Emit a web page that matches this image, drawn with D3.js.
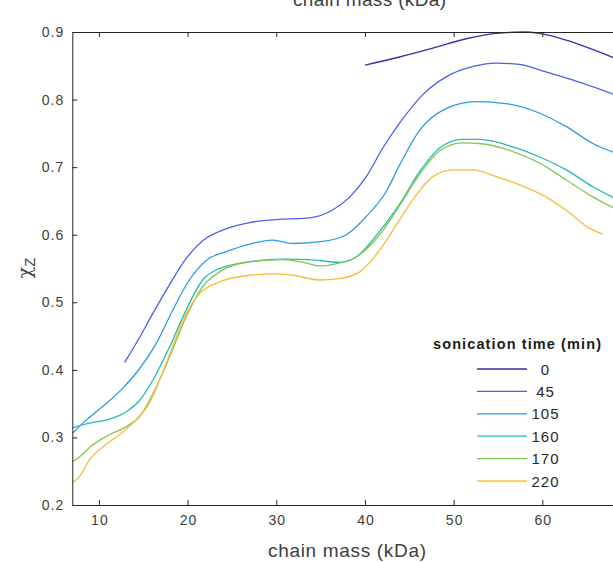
<!DOCTYPE html>
<html><head><meta charset="utf-8">
<script src="https://cdn.jsdelivr.net/npm/d3@7"></script>
<style>
html,body{margin:0;padding:0;background:#fff;overflow:hidden}
svg{display:block;font-family:"Liberation Sans",Arial,Helvetica,sans-serif}
</style></head>
<body>
<svg id="chart" width="613" height="562"></svg>
<script>
// ---- data ----
const sonicationTimes = ["0", "45", "105", "160", "170", "220"];
const seriesColors = ["#3d2cab", "#4a5ff2", "#2d9ae6", "#20bdb2", "#86c64e", "#fbbb3c"];
const xTicks = [10, 20, 30, 40, 50, 60];
const yTicks = [0.2, 0.3, 0.4, 0.5, 0.6, 0.7, 0.8, 0.9];

const mass0 = [40, 43.9, 47.65, 51.4, 54.8, 57.8, 59.7, 62.7, 65.3, 68];
const chi0  = [0.851, 0.863, 0.876, 0.890, 0.898, 0.900, 0.898, 0.888, 0.876, 0.862];

const mass45 = [12.9, 14.5, 16.1, 18.0, 19.85, 21.7, 24.4, 27.0, 30.7, 33.75, 36.4, 38.3, 40.15, 42.0, 43.9, 46.5, 49.2, 52.2, 54.8, 57.4, 60.4, 63.4, 68];
const chi45  = [0.411, 0.446, 0.484, 0.527, 0.565, 0.591, 0.609, 0.618, 0.623, 0.625, 0.637, 0.656, 0.686, 0.728, 0.765, 0.807, 0.834, 0.849, 0.854, 0.852, 0.841, 0.829, 0.808];

const mass105 = [7.0, 8.6, 10.45, 12.7, 14.6, 16.5, 18.35, 20.2, 22.1, 24.4, 27.0, 29.6, 31.9, 35.25, 37.9, 40.15, 42.4, 43.9, 46.2, 49.2, 52.5, 55.9, 59.3, 62.7, 65.7, 68];
const chi105  = [0.306, 0.326, 0.346, 0.373, 0.402, 0.440, 0.489, 0.533, 0.562, 0.575, 0.586, 0.592, 0.587, 0.590, 0.600, 0.627, 0.664, 0.703, 0.755, 0.787, 0.797, 0.794, 0.782, 0.760, 0.735, 0.722];

const mass160 = [7.0, 8.95, 11.2, 13.1, 14.6, 16.1, 17.97, 19.85, 21.7, 23.6, 27.0, 30.7, 33.75, 37.1, 39.0, 41.65, 43.9, 46.2, 48.4, 51.0, 52.9, 56.7, 59.7, 62.7, 65.7, 68];
const chi160  = [0.314, 0.321, 0.327, 0.338, 0.355, 0.385, 0.434, 0.489, 0.533, 0.550, 0.560, 0.564, 0.563, 0.559, 0.567, 0.605, 0.645, 0.694, 0.728, 0.741, 0.741, 0.730, 0.715, 0.696, 0.671, 0.655];

const mass170 = [7.0, 7.8, 9.3, 11.2, 13.1, 14.6, 16.1, 17.97, 19.85, 21.7, 23.6, 27.0, 30.7, 33.4, 34.9, 37.1, 39.0, 41.65, 43.9, 46.2, 48.4, 51.0, 52.9, 56.7, 59.7, 62.7, 65.7, 68];
const chi170  = [0.264, 0.271, 0.289, 0.304, 0.316, 0.331, 0.365, 0.419, 0.479, 0.523, 0.545, 0.560, 0.563, 0.558, 0.554, 0.558, 0.567, 0.600, 0.643, 0.690, 0.724, 0.736, 0.735, 0.723, 0.706, 0.681, 0.656, 0.640];

const mass220 = [7.0, 7.8, 8.95, 10.45, 12.3, 14.2, 15.7, 17.6, 19.5, 21.35, 23.2, 27.0, 29.6, 31.9, 34.9, 37.1, 39.4, 41.65, 43.9, 45.4, 47.65, 49.9, 52.2, 54.8, 57.4, 60.4, 63.1, 65.0, 66.8];
const chi220  = [0.233, 0.242, 0.267, 0.286, 0.304, 0.326, 0.351, 0.410, 0.474, 0.513, 0.528, 0.540, 0.542, 0.540, 0.533, 0.535, 0.545, 0.577, 0.622, 0.652, 0.686, 0.696, 0.696, 0.686, 0.674, 0.656, 0.632, 0.612, 0.601];

const seriesMass = [mass0, mass45, mass105, mass160, mass170, mass220];
const seriesChi  = [chi0, chi45, chi105, chi160, chi170, chi220];

// ---- layout ----
const svg = d3.select("#chart");
const mLeft = 72.3, mRight = 631, mTop = 32, mBottom = 505;
const x = d3.scaleLinear().domain([7, 70]).range([mLeft, mRight]);
const y = d3.scaleLinear().domain([0.2, 0.9]).range([mBottom, mTop]);
const axisColor = "#262626";
const textColor = "#404040";

svg.append("defs").append("clipPath").attr("id", "plotclip")
  .append("rect").attr("x", mLeft).attr("y", mTop - 2).attr("width", mRight - mLeft).attr("height", mBottom - mTop + 2);

const line = d3.line().x(d => x(d[0])).y(d => y(d[1])).curve(d3.curveMonotoneX);
const plot = svg.append("g").attr("clip-path", "url(#plotclip)");
seriesMass.forEach((ms, i) => {
  const pts = ms.map((m, j) => [m, seriesChi[i][j]]);
  plot.append("path").datum(pts)
    .attr("d", line).attr("fill", "none")
    .attr("stroke", seriesColors[i]).attr("stroke-width", 1.3);
});

function styleAxis(g) {
  g.select(".domain").attr("stroke", axisColor).attr("stroke-width", 1);
  g.selectAll(".tick line").attr("stroke", axisColor);
  g.selectAll(".tick text").attr("fill", textColor).style("font-size", "14px")
    .style("letter-spacing", "1px")
    .style("font-family", "\"Liberation Sans\",Arial,sans-serif");
}
const xAxis = svg.append("g").attr("transform", `translate(0,${mBottom})`)
  .call(d3.axisBottom(x).tickValues(xTicks).tickSize(-5).tickSizeOuter(0).tickPadding(10));
styleAxis(xAxis);
xAxis.selectAll(".tick text").attr("dx", "0.5");
const xTopAxis = svg.append("g").attr("transform", `translate(0,${mTop})`)
  .call(d3.axisTop(x).tickValues(xTicks).tickSize(-5).tickSizeOuter(0).tickFormat(""));
styleAxis(xTopAxis);
const yAxis = svg.append("g").attr("transform", `translate(${mLeft},0)`)
  .call(d3.axisLeft(y).tickValues(yTicks).tickSize(-5).tickSizeOuter(0).tickPadding(8).tickFormat(d3.format(".1f")));
styleAxis(yAxis);

svg.append("text").attr("x", 268).attr("y", 557)
  .attr("textLength", 158).attr("lengthAdjust", "spacing")
  .attr("fill", textColor).style("font-size", "19px").text("chain mass (kDa)");
svg.append("text").attr("x", 293).attr("y", 6)
  .attr("textLength", 153).attr("lengthAdjust", "spacing")
  .attr("fill", textColor).style("font-size", "19px").text("chain mass (kDa)");
const yl = svg.append("text").attr("transform", "translate(31,268) rotate(-90)")
  .attr("text-anchor", "middle").attr("fill", textColor).style("font-size", "19px");
yl.append("tspan").style("font-family", "\"DejaVu Serif\",serif").text("χ");
yl.append("tspan").attr("dy", 4).style("font-size", "15px").text("Z");

const lg = svg.append("g");
lg.append("text").attr("x", 433).attr("y", 349)
  .attr("textLength", 168).attr("lengthAdjust", "spacing")
  .attr("fill", "#1a1a1a").style("font-size", "14.5px").style("font-weight", "bold")
  .text("sonication time (min)");
sonicationTimes.forEach((t, i) => {
  const yy = 369 + i * 22.4;
  lg.append("line").attr("x1", 477).attr("x2", 527).attr("y1", yy).attr("y2", yy)
    .attr("stroke", seriesColors[i]).attr("stroke-width", 1.3);
  lg.append("text").attr("x", 545.5).attr("y", yy + 5.5).attr("text-anchor", "middle")
    .attr("fill", "#262626").style("font-size", "15px").style("letter-spacing", "1px").text(t);
});
</script>
</body></html>
